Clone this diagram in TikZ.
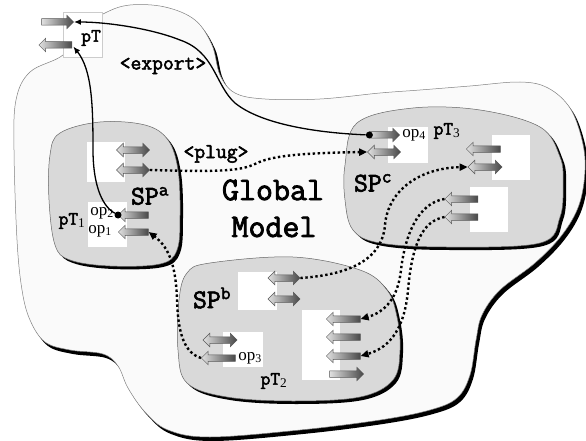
\documentclass[tikz,border=0pt]{standalone}
\usepackage{fontspec}
\setmainfont{Liberation Serif}
\newfontfamily\cour{Latin Modern Mono}[FakeBold=2.5]
\usetikzlibrary{shapes.arrows,arrows.meta}
\newcommand{\outerblob}{plot[smooth cycle,tension=0.6] coordinates {(63,55) (30,72) (16,100) (14,150) (17,240) (22,290) (30,320) (45,342) (70,350) (103,354) (118,366) (128,388) (145,412) (168,430) (210,437) (300,430) (380,420) (430,410) (457,398) (470,375) (476,340) (482,315) (500,290) (535,263) (562,235) (579,205) (585,170) (582,140) (570,108) (548,88) (520,82) (470,86) (420,90) (380,93) (320,99) (265,99) (235,93) (220,75) (212,45) (195,20) (165,7) (130,5) (105,13) (80,30)}}
\newcommand{\blobA}{plot[smooth cycle,tension=0.6] coordinates {(60,133) (100,122) (145,125) (168,140) (178,170) (180,215) (177,250) (160,264) (110,266) (70,260) (55,245) (49,200) (50,155)}}
\newcommand{\blobB}{plot[smooth cycle,tension=0.6] coordinates {(187,273) (210,263) (293,257) (360,270) (387,290) (397,317) (400,350) (393,380) (360,397) (293,401) (227,397) (187,383) (178,350) (179,300)}}
\newcommand{\blobC}{plot[smooth cycle,tension=0.6] coordinates {(357,123) (413,108) (480,110) (540,127) (560,157) (563,183) (560,217) (540,243) (447,247) (380,243) (353,230) (345,200) (345,165)}}
\begin{document}
\begin{tikzpicture}[x=1pt,y=-1pt,
  arrbase/.style={draw=black!65, line width=0.5pt, left color=black!12, right color=black!72, inner xsep=0pt, inner ysep=3pt, minimum width=13pt},
  rarr/.style={arrbase, single arrow, single arrow head extend=3.5pt, minimum height=#1},
  larr/.style={rarr=#1, shape border rotate=180},
  darr/.style={arrbase, double arrow, double arrow head extend=3.5pt, minimum height=#1},
  wbox/.style={rectangle, fill=white, inner sep=0pt},
  dotn/.style={circle, fill=black, inner sep=0pt, minimum size=7pt},
  expl/.style={line width=1.3pt, -{Latex[length=7pt,width=6pt]}},
  dotl/.style={line width=2.4pt, dash pattern=on 2.4pt off 2.6pt, -{Triangle[length=8pt,width=7pt]}},
  mono/.style={font=\cour\fontsize{#1}{#1}\selectfont, inner sep=0pt},
  serif/.style={font=\rmfamily\fontsize{17}{17}\selectfont, inner sep=0pt}
]
\useasboundingbox (0,0) rectangle (586,441);
% outer model
\fill[black, shift={(3,4)}] \outerblob;
\filldraw[fill=black!2, draw=black!50, line width=0.5pt] \outerblob;
% service providers
\fill[black, shift={(3,3)}] \blobA;
\filldraw[fill=black!15, draw=black!60, line width=0.5pt] \blobA;
\fill[black, shift={(3,3)}] \blobB;
\filldraw[fill=black!15, draw=black!60, line width=0.5pt] \blobB;
\fill[black, shift={(3,3)}] \blobC;
\filldraw[fill=black!15, draw=black!60, line width=0.5pt] \blobC;
% white port boxes
\node[wbox, draw=black!20, minimum width=39pt, minimum height=45pt] (ptbox) at (82.5,34.5) {};
\node[wbox, minimum width=38pt, minimum height=40pt] (wa1) at (106,162) {};
\node[wbox, minimum width=39pt, minimum height=45pt] (wa2) at (107.5,224.5) {};
\node[wbox, minimum width=39pt, minimum height=38pt] (wb1) at (257.5,291) {};
\node[wbox, minimum width=40pt, minimum height=35pt] (wb2) at (243,349.5) {};
\node[wbox, minimum width=38pt, minimum height=70pt] (wb3) at (321,345) {};
\node[wbox, minimum width=40pt, minimum height=36pt] (wc1) at (408,145) {};
\node[wbox, minimum width=38pt, minimum height=45pt] (wc2) at (511,157.5) {};
\node[wbox, minimum width=38pt, minimum height=45pt] (wc3) at (489,209.5) {};
% port arrows
\node[rarr=32pt] (ptout) at (56,22) {};
\node[larr=33pt] (ptin) at (57,45) {};
\node[darr=33pt] (a1) at (133,150) {};
\node[darr=33pt] (a2) at (133,170) {};
\node[larr=30pt] (a3) at (135,215) {};
\node[larr=30pt] (a4) at (135,232) {};
\node[darr=32pt] (b1) at (284,278) {};
\node[darr=32pt] (b2) at (284,299) {};
\node[darr=34pt] (b3) at (220,340) {};
\node[larr=34pt] (b4) at (220,358) {};
\node[larr=34pt] (b5) at (345,319) {};
\node[larr=34pt] (b6) at (345,337) {};
\node[larr=34pt] (b7) at (345,356) {};
\node[rarr=34pt] (b8) at (345,374) {};
\node[rarr=30pt] (c1) at (383,135) {};
\node[darr=33pt] (c2) at (384,152) {};
\node[larr=34pt] (c3) at (485,149) {};
\node[darr=34pt] (c4) at (485,167) {};
\node[larr=33pt] (c5) at (463,199) {};
\node[larr=33pt] (c6) at (463,217) {};
% labels
\node[mono=19] (lpt) at (91,38) {pT};
\node[mono=21] (lexp) at (163,66) {<export>};
\node[mono=21] (lplug) at (216,154) {<plug>};
\node[mono=33] (lglob) at (273,190) {Global};
\node[mono=33] (lmod) at (274,227) {Model};
\node[mono=27] (lspa) at (150,196) {SP\textsuperscript{a}};
\node[mono=27] (lspb) at (212,298) {SP\textsuperscript{b}};
\node[mono=27] (lspc) at (373,183) {SP\textsuperscript{c}};
\node[mono=19] (lpt1) at (72,221) {pT\textsubscript{\rmfamily 1}};
\node[mono=19] (lpt2) at (274,381) {pT\textsubscript{\rmfamily 2}};
\node[mono=19] (lpt3) at (447,131) {pT\textsubscript{\rmfamily 3}};
\node[serif] (lop2) at (102,213) {op\textsubscript{2}};
\node[serif] (lop1) at (100,231) {op\textsubscript{1}};
\node[serif] (lop3) at (250,358) {op\textsubscript{3}};
\node[serif] (lop4) at (414,135) {op\textsubscript{4}};
% dots
\node[dotn] (d2) at (a3.west) {};
\node[dotn] (d4) at (c1.west) {};
% export connectors
\draw[expl] (d4) .. controls (320,133) and (262,125) .. (235,103) .. controls (215,85) and (215,52) .. (180,40) .. controls (150,28) and (105,22) .. (ptout.east);
\draw[expl, shorten >=2pt] (d2) .. controls (100,205) and (93,180) .. (93,150) .. controls (93,105) and (92,70) .. (ptin.tail);
% plug connectors
\draw[dotl] (a2.east) .. controls (220,172) and (240,171) .. (255,164) .. controls (270,156) and (300,153) .. (c2.west);
\draw[dotl] (b1.east) .. controls (345,275) and (382,262) .. (385,225) .. controls (388,190) and (420,168) .. (c4.west);
\draw[dotl] (c5.west) .. controls (418,203) and (405,235) .. (401,270) .. controls (398,298) and (385,312) .. (b5.east);
\draw[dotl] (c6.west) .. controls (422,221) and (412,245) .. (408,290) .. controls (405,325) and (392,347) .. (b7.east);
\draw[dotl] (b4.west) .. controls (185,353) and (178,335) .. (177,300) .. controls (176,268) and (170,248) .. (a4.east);
\end{tikzpicture}
\end{document}
